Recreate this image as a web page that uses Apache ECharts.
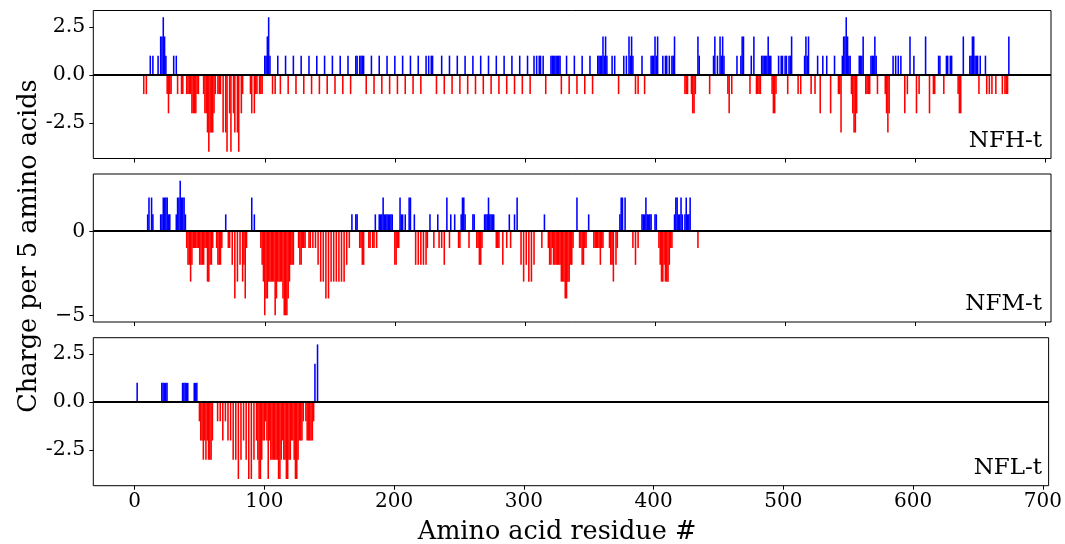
<!DOCTYPE html>
<html>
<head>
<meta charset="utf-8">
<script src="https://cdn.jsdelivr.net/npm/echarts@6/dist/echarts.min.js"></script>
<style>
html,body{margin:0;padding:0;background:#fff;}
#chart{width:1065px;height:544px;}
</style>
</head>
<body>
<div id="chart"></div>
<script>
// ---- data: [residue, charge per 5 amino acids] (zero values omitted) ----
const panelNames = ['NFH-t', 'NFM-t', 'NFL-t'];
const xTicks = [0, 100, 200, 300, 400, 500, 600, 700];
const yTicksH = [-2.5, 0, 2.5];
const yTicksM = [-5, 0];
const yTicksL = [-2.5, 0, 2.5];

const nfhCharge = [
 [7,-1],[9,-1],[12,1],[14,1],[18,1],[20,2],[21,2],[22,3],[23,2],[24,1],[25,-1],[26,-2],[27,-1],[28,-1],
 [30,1],[32,1],[33,-1],[36,-1],[37,-1],
 [40,-1],[41,-1],[42,-1],[43,-1],[44,-2],[45,-2],[46,-2],[47,-2],[48,-1],[49,-1],
 [53,-1],[54,-2],[55,-2],[56,-3],[57,-4],[58,-3],[59,-3],[60,-3],[61,-2],[62,-1],[64,-1],[65,-1],
 [66,-1],[68,-3],[70,-3],[71,-4],[73,-2],[74,-4],[76,-2],[77,-3],[79,-3],[80,-4],[82,-2],[83,-1],
 [89,-1],[90,-2],[92,-2],[93,-1],[94,-1],[96,-1],[97,-1],[98,-1],
 [100,1],[101,1],[102,2],[103,3],[104,1],[106,-1],[108,-1],
 [110,1],[112,-1],[116,1],[118,-1],[122,1],[124,-1],[128,1],[130,-1],[134,1],[136,-1],[140,1],[142,-1],
 [146,1],[148,-1],[152,1],[154,-1],[158,1],[160,-1],[164,1],[166,-1],
 [170,1],[171,1],[173,1],[174,1],[175,1],[176,1],[178,-1],[182,1],[184,-1],[188,1],[190,-1],[194,1],[196,-1],
 [200,1],[202,-1],[206,1],[208,-1],[212,1],[214,-1],[218,1],[220,-1],[224,1],[226,1],[228,1],[229,1],
 [232,-1],[236,1],[238,-1],[242,1],[244,-1],[248,1],[250,-1],[254,1],[256,-1],[260,1],[262,-1],[266,1],[268,-1],
 [272,1],[274,-1],[278,1],[280,-1],[284,1],[286,-1],[290,1],[292,-1],[296,1],[298,-1],[302,1],[304,-1],
 [307,1],[309,1],[311,1],[312,1],[314,1],[316,-1],
 [320,1],[321,1],[322,1],[323,1],[324,1],[325,1],[326,1],[327,1],[328,-1],[332,1],[334,-1],
 [338,1],[340,-1],[344,1],[346,-1],[350,1],[352,-1],
 [356,1],[357,1],[358,1],[359,1],[360,2],[361,1],[362,2],[363,1],[367,1],[369,1],[372,-1],
 [376,1],[378,1],[380,2],[381,1],[382,2],[383,1],[385,-1],[387,-1],[390,1],[392,-1],
 [397,1],[398,1],[399,1],[400,2],[401,1],[402,2],[406,1],[408,1],[409,1],[411,1],[413,1],[414,1],[415,2],
 [423,-1],[424,-1],[425,-1],[428,-1],[429,-2],[430,-2],[431,-1],[433,2],[434,1],[442,-1],
 [445,1],[446,2],[448,1],[450,2],[451,1],[452,2],[453,1],[456,-1],[457,-2],[459,-1],
 [463,1],[466,1],[467,2],[468,2],[473,-1],[474,1],[476,2],[478,-1],[479,-1],[480,-1],[481,-1],
 [482,1],[483,1],[484,1],[485,1],[486,1],[487,2],[488,1],[489,1],[490,-1],[491,-2],[492,-2],[493,-1],
 [495,1],[497,1],[498,1],[500,1],[501,1],[502,-1],[503,1],[504,1],[505,2],
 [510,-1],[512,-1],[515,1],[516,2],[517,1],[518,2],[520,-1],[523,-1],[525,1],[527,-2],[529,1],[532,1],
 [535,-2],[538,1],[541,-1],[542,-1],[543,-3],[544,1],[545,2],[546,2],[547,3],[548,2],[549,1],[550,1],
 [551,-1],[552,-2],[553,-3],[554,-3],[555,-2],[557,1],[558,1],[559,1],[560,2],
 [562,-1],[563,-1],[564,-1],[565,-1],[566,1],[567,1],[568,1],[569,2],[570,1],[571,-1],
 [577,-1],[578,-2],[579,-3],[580,-2],[583,1],[585,1],[587,1],[589,1],[592,-2],[594,-1],[596,2],[599,1],
 [601,-2],[603,-1],[608,2],[611,-2],[614,-1],[615,-1],[618,1],[619,1],[622,-1],[624,1],[625,1],[627,1],[628,1],
 [633,-1],[634,-2],[635,-2],[637,2],[642,1],[643,1],[644,2],[645,2],[646,1],[647,1],[648,1],[649,-1],[650,1],
 [654,1],[655,-1],[657,-1],[659,-1],[662,-1],[667,-1],[669,-1],[670,-1],[671,-1],[672,2]
];

const nfmCharge = [
 [10,1],[11,2],[13,2],[14,1],[20,1],[21,1],[22,2],[23,2],[24,2],[25,2],[26,1],[27,1],
 [32,1],[33,2],[34,2],[35,3],[36,2],[37,2],[38,2],[39,1],
 [40,-1],[41,-2],[42,-2],[43,-3],[44,-2],[45,-1],[46,-1],[47,-1],[48,-1],[49,-1],[50,-2],[51,-2],[52,-2],[53,-2],
 [54,-1],[55,-1],[56,-3],[57,-3],[58,-2],[59,-2],[60,-1],[63,-1],[64,-2],[65,-2],[66,-2],[67,-1],
 [70,1],[72,-1],[73,-1],[75,-2],[77,-4],[79,-3],[81,-2],[83,-3],[84,-2],[85,-4],[86,-1],[90,2],[92,1],
 [97,-1],[98,-2],[99,-3],[100,-5],[101,-4],[102,-4],[103,-3],[104,-3],[105,-3],[106,-3],[107,-3],[108,-5],
 [109,-4],[110,-3],[111,-3],[112,-3],[113,-3],[114,-4],[115,-5],[116,-5],[117,-5],[118,-4],[119,-3],
 [120,-2],[121,-2],[122,-2],[126,-1],[127,-2],[128,-2],[129,-1],[130,-1],[131,-1],[134,-1],[135,-1],
 [137,-1],[139,-1],[141,-2],[143,-3],[145,-3],[147,-4],[149,-4],[151,-3],[153,-3],[155,-3],[157,-3],
 [159,-3],[161,-3],[163,-2],[165,-1],[167,1],[170,1],[171,1],[173,-1],[174,-1],[175,-2],[176,-2],
 [180,-1],[181,-1],[183,-1],[184,-1],[185,1],[186,-1],
 [188,1],[189,1],[190,1],[191,2],[192,1],[193,1],[194,1],[195,1],[196,1],[197,1],[198,1],
 [200,-2],[201,-2],[202,-1],[203,-1],[204,2],[205,1],[206,1],[208,1],[211,2],[212,2],[215,1],
 [216,-2],[218,-2],[220,-2],[222,-2],[224,-2],[225,-1],[227,1],[230,-1],[233,1],[234,-1],[236,-1],[238,-2],
 [240,2],[242,-1],[243,1],[246,1],[249,-1],[250,-1],[251,1],[252,2],[253,2],[254,1],[257,-1],[260,1],[261,1],
 [263,-1],[264,-1],[265,-2],[266,-2],[267,-1],[269,1],[270,1],[271,1],[272,2],[273,1],[274,1],[275,1],[276,1],
 [278,-1],[279,-1],[280,-1],[283,-2],[286,-1],[288,1],[289,-1],[292,1],[294,2],
 [297,-2],[299,-3],[301,-2],[303,-3],[305,-3],[307,-2],[313,-1],[315,1],
 [318,-1],[319,-2],[320,-2],[321,-1],[322,-2],[323,-2],[324,-2],[325,-2],[326,-2],[327,-2],[328,-3],
 [329,-3],[330,-3],[331,-4],[332,-4],[333,-3],[334,-3],[335,-2],[336,-2],[337,-1],[340,2],
 [342,-1],[343,-1],[344,-2],[345,-2],[346,-1],[347,-1],[349,1],
 [353,-1],[354,-1],[355,-1],[356,-1],[357,-1],[358,-2],[359,-1],[360,-1],
 [365,-1],[366,-2],[367,-2],[368,-3],[370,-2],[371,-1],[373,1],[374,2],[375,2],[377,2],
 [383,-1],[385,-2],[387,-1],[390,1],[391,1],[392,1],[393,2],[394,1],[395,1],[396,1],[397,1],[400,1],[401,1],
 [403,-1],[404,-2],[405,-3],[406,-3],[407,-2],[408,-3],[409,-3],[410,-3],[411,-2],[412,-1],[413,-1],
 [415,1],[416,2],[417,2],[418,1],[419,1],[420,2],[421,1],[423,1],[424,2],[425,1],[426,1],[427,2],[433,-1]
];

const nflCharge = [
 [2,1],[21,1],[22,1],[23,1],[24,1],[25,1],[37,1],[38,1],[39,1],[40,1],[41,1],[46,1],[47,1],[48,1],
 [50,-1],[51,-2],[52,-2],[53,-3],[54,-2],[55,-3],[56,-2],[57,-3],[58,-3],[59,-3],[60,-2],
 [64,-1],[66,-1],[68,-2],[70,-1],[72,-2],[74,-2],[76,-3],[78,-3],[80,-4],[82,-3],[84,-2],[86,-3],[88,-4],[90,-4],[92,-3],
 [94,-2],[95,-3],[96,-4],[97,-4],[98,-3],[99,-2],[100,-2],[101,-1],[102,-2],[103,-4],[104,-2],[105,-3],
 [106,-3],[107,-3],[108,-3],[109,-3],[110,-3],[111,-4],[112,-4],[113,-3],[114,-2],[115,-3],[116,-3],
 [117,-4],[118,-4],[119,-3],[120,-3],[121,-2],[122,-2],[123,-3],[124,-4],[125,-4],[126,-3],[127,-2],
 [128,-2],[129,-2],[130,-1],[132,-1],[133,-2],[134,-2],[135,-2],[136,-2],[137,-2],[138,-1],[139,2],[141,3]
];

// ---- chart ----
const FONT = 'DejaVu Serif';
const fmtDec = v => v === 0 ? '0.0' : (v < 0 ? '-' : '') + Math.abs(v).toFixed(1);
const panels = [
  {data: nfhCharge, ticks: yTicksH, min: -4.35, max: 3.35, fmt: fmtDec},
  {data: nfmCharge, ticks: yTicksM, min: -5.4, max: 3.4, fmt: v => v < 0 ? '\u2212' + Math.abs(v) : String(v)},
  {data: nflCharge, ticks: yTicksL, min: -4.35, max: 3.35, fmt: fmtDec}
];
const gridTops = [10.5, 174, 337.7];
const GRID_H = 148;
const LEFT = 93.3, RIGHT = 1065 - 1051;

const grids = [], xAxes = [], yAxes = [], series = [], graphics = [];
panels.forEach((p, i) => {
  grids.push({left: LEFT, right: RIGHT, top: gridTops[i], height: GRID_H, show: true,
    borderColor: '#000', borderWidth: 1, backgroundColor: 'transparent'});
  xAxes.push({type: 'value', gridIndex: i, min: -31.8, max: 704.4, position: 'bottom',
    axisLine: {show: false, onZero: false}, splitLine: {show: false},
    axisTick: {show: true, inside: false, length: 4, customValues: xTicks, lineStyle: {color: '#000', width: 1}},
    axisLabel: {show: i === 2, customValues: xTicks, margin: 6, fontFamily: FONT, fontSize: 20, color: '#000'}});
  yAxes.push({type: 'value', gridIndex: i, min: p.min, max: p.max, position: 'left',
    axisLine: {show: false, onZero: false}, splitLine: {show: false},
    axisTick: {show: true, inside: false, length: 4, customValues: p.ticks, lineStyle: {color: '#000', width: 1}},
    axisLabel: {customValues: p.ticks, margin: 8, fontFamily: FONT, fontSize: 20.5, color: '#000', formatter: p.fmt}});
  series.push({
    type: 'custom', xAxisIndex: i, yAxisIndex: i, data: p.data, silent: true, animation: false,
    renderItem: (params, api) => {
      const x = api.value(0), v = api.value(1);
      const a = api.coord([x - 0.6, 0]);
      const b = api.coord([x + 0.6, v]);
      return {type: 'rect',
        shape: {x: a[0], y: Math.min(a[1], b[1]), width: b[0] - a[0], height: Math.abs(b[1] - a[1])},
        style: {fill: v > 0 ? '#0000ff' : '#ff0000'}};
    },
    markLine: {silent: true, symbol: 'none', animation: false, label: {show: false},
      lineStyle: {color: '#000', width: 2.2, type: 'solid'}, data: [{yAxis: 0}]}
  });
  graphics.push({type: 'text', right: 1065 - 1042, top: gridTops[i] + GRID_H - 29,
    style: {text: panelNames[i], font: '23px "' + FONT + '"', fill: '#000'}});
});

graphics.push({type: 'text', x: 29, y: 246, rotation: Math.PI / 2,
  style: {text: 'Charge per 5 amino acids', font: '25.5px "' + FONT + '"', fill: '#000', align: 'center', verticalAlign: 'middle'}});
graphics.push({type: 'text', x: 557, y: 532,
  style: {text: 'Amino acid residue #', font: '25.5px "' + FONT + '"', fill: '#000', align: 'center', verticalAlign: 'middle'}});

const chart = echarts.init(document.getElementById('chart'), null, {renderer: 'canvas'});
chart.setOption({animation: false, grid: grids, xAxis: xAxes, yAxis: yAxes, series: series, graphic: graphics});
</script>
</body>
</html>
